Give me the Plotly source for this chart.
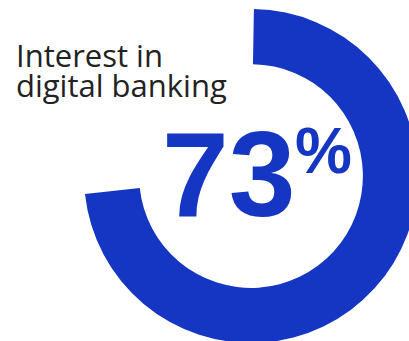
import plotly.graph_objects as go

# Share of respondents interested in digital banking
labels = ["Interested", "Not interested"]
values = [73, 27]
slice_colors = ["#1535C3", "rgba(255,255,255,0)"]
title_lines = ["Interest in", "digital banking"]
value_text = "73"
unit_text = "%"

W, H = 430, 350


def px(x):
    return x / W


def py(y):
    return 1 - y / H


fig = go.Figure(
    go.Pie(
        labels=labels,
        values=values,
        marker=dict(colors=slice_colors, line=dict(width=0)),
        hole=0.67,
        sort=False,
        direction="clockwise",
        rotation=1.0,
        textinfo="none",
        hoverinfo="skip",
        showlegend=False,
        domain=dict(x=[px(84), px(418)], y=[py(343), py(9)]),
    )
)

# Two-line heading, one annotation per line for tight leading
for line, top in zip(title_lines, [33, 63]):
    fig.add_annotation(
        x=px(15), y=py(top), xref="paper", yref="paper",
        xanchor="left", yanchor="top", align="left",
        text=line, showarrow=False, borderpad=0,
        font=dict(family="Open Sans", size=31, color="#222222"),
    )

fig.add_annotation(
    x=px(160), y=py(174), xref="paper", yref="paper",
    xanchor="left", yanchor="middle",
    text=value_text, showarrow=False,
    font=dict(family="Liberation Sans", size=120, color="#1535C3", weight="bold"),
)
fig.add_annotation(
    x=px(293), y=py(151), xref="paper", yref="paper",
    xanchor="left", yanchor="middle",
    text=unit_text, showarrow=False,
    font=dict(family="Liberation Sans", size=64, color="#1535C3", weight="bold"),
)

fig.update_layout(
    width=W, height=H,
    margin=dict(l=0, r=0, t=0, b=0),
    paper_bgcolor="white",
    plot_bgcolor="white",
)

fig.write_html(
    "out.html",
    post_script="document.body.style.margin='0';document.body.style.overflow='hidden';",
)
